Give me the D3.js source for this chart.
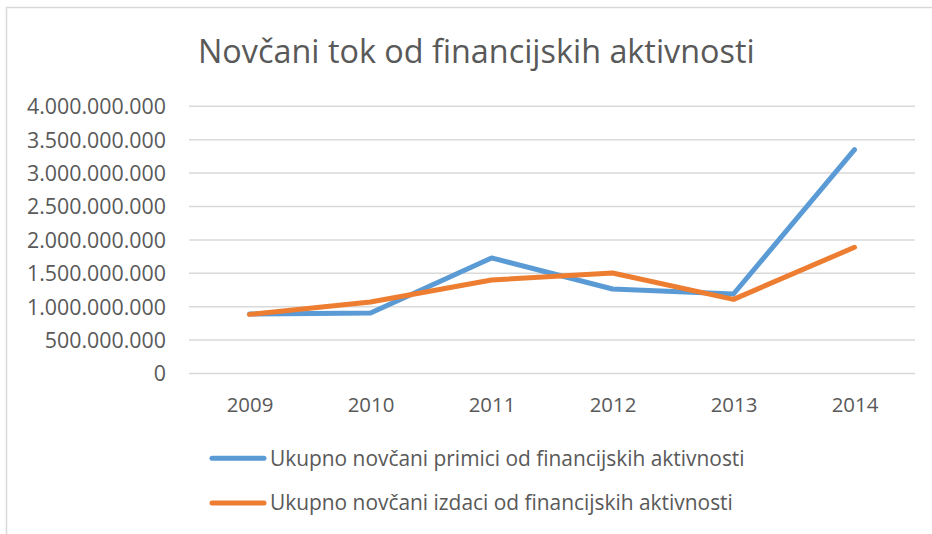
<!DOCTYPE html>
<html>
<head>
<meta charset="utf-8">
<script src="https://cdn.jsdelivr.net/npm/d3@7"></script>
<style>
  html, body { margin: 0; padding: 0; background: #fff; }
  svg { display: block; }
  text { font-family: "Open Sans", "Noto Sans", sans-serif; fill: #595959; }
</style>
</head>
<body>
<svg id="chart" width="932" height="534"></svg>
<script>
const title = "Novčani tok od financijskih aktivnosti";
const years = ["2009", "2010", "2011", "2012", "2013", "2014"];
const primici = [890000000, 905000000, 1730000000, 1265000000, 1190000000, 3350000000];
const izdaci = [885000000, 1070000000, 1400000000, 1505000000, 1110000000, 1890000000];
const seriesNames = [
  "Ukupno novčani primici od financijskih aktivnosti",
  "Ukupno novčani izdaci od financijskih aktivnosti"
];
const yTicks = [0, 500000000, 1000000000, 1500000000, 2000000000, 2500000000, 3000000000, 3500000000, 4000000000];

const colors = ["#5B9BD5", "#ED7D31"];
const svg = d3.select("#chart");

// chart border
svg.append("rect")
  .attr("x", 6.5).attr("y", 7.5).attr("width", 960).attr("height", 560)
  .attr("fill", "none").attr("stroke", "#D9D9D9").attr("stroke-width", 1.5);

const plot = { left: 189, right: 915, top: 106.3, bottom: 373.5 };

const x = d3.scalePoint().domain(years).range([plot.left, plot.right]).padding(0.5);
const y = d3.scaleLinear().domain([0, 4000000000]).range([plot.bottom, plot.top]);

function fitSize(str, targetWidth, base) {
  const t = svg.append("text").attr("font-size", base).text(str);
  const w = t.node().getComputedTextLength();
  t.remove();
  return base * targetWidth / w;
}

const fmt = v => d3.format(",")(v).replace(/,/g, ".");

// gridlines
svg.append("g")
  .selectAll("line").data(yTicks).join("line")
  .attr("x1", plot.left).attr("x2", plot.right)
  .attr("y1", d => y(d)).attr("y2", d => y(d))
  .attr("stroke", "#D9D9D9").attr("stroke-width", 1.5);

// y axis labels
const yFont = fitSize("4.000.000.000", 139, 20);
const yAxis = d3.axisLeft(y).tickValues(yTicks).tickFormat(fmt).tickSize(0).tickPadding(0);
const yg = svg.append("g").attr("transform", `translate(166,0)`).call(yAxis);
yg.select(".domain").remove();
yg.selectAll("text").attr("font-size", yFont).attr("fill", "#595959")
  .style("font-family", '"Open Sans", sans-serif').attr("dy", "0.35em");

// x axis labels
const xFont = fitSize("2009", 46.7, 20);
const xAxis = d3.axisBottom(x).tickSize(0).tickPadding(0);
const xg = svg.append("g").attr("transform", `translate(0,0)`).call(xAxis);
xg.select(".domain").remove();
xg.selectAll("text").attr("font-size", xFont).attr("fill", "#595959")
  .style("font-family", '"Open Sans", sans-serif')
  .attr("y", 412.3).attr("dy", 0);

// lines
const line = d3.line().x((d, i) => x(years[i])).y(d => y(d));
[primici, izdaci].forEach((s, i) => {
  svg.append("path").datum(s)
    .attr("d", line)
    .attr("fill", "none")
    .attr("stroke", colors[i])
    .attr("stroke-width", 5)
    .attr("stroke-linecap", "round")
    .attr("stroke-linejoin", "round");
});

// title
const tFont = fitSize(title, 557, 30);
svg.append("text")
  .attr("x", 198).attr("y", 62.7)
  .attr("font-size", tFont)
  .attr("fill", "#595959")
  .text(title);

// legend
const lFont = fitSize(seriesNames[0], 475, 20);
const legendY = [458.3, 503];
seriesNames.forEach((name, i) => {
  svg.append("line")
    .attr("x1", 212).attr("x2", 264)
    .attr("y1", legendY[i]).attr("y2", legendY[i])
    .attr("stroke", colors[i]).attr("stroke-width", 5)
    .attr("stroke-linecap", "round");
  svg.append("text")
    .attr("x", 270).attr("y", legendY[i] + 7.4)
    .attr("font-size", lFont)
    .attr("fill", "#595959")
    .text(name);
});
</script>
</body>
</html>
